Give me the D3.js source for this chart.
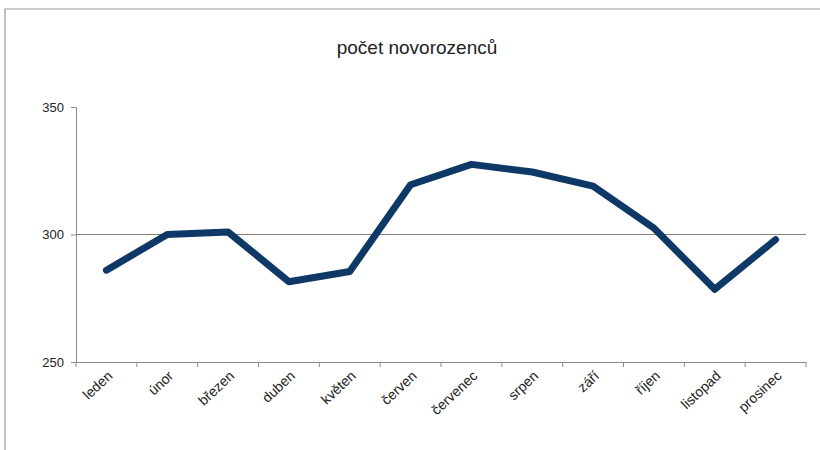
<!DOCTYPE html>
<html lang="cs">
<head>
<meta charset="UTF-8">
<title>počet novorozenců</title>
<script src="https://cdn.jsdelivr.net/npm/d3@7"></script>
<style>
    body { margin: 0; background: #fff; }
    svg { display: block; font-family: "Liberation Sans", Arial, sans-serif; }
    .title { font-size: 19px; fill: #222; }
    .axis text { font-size: 13px; fill: #222; }
    .xaxis text { font-size: 14px; }
    .axis path, .axis line { stroke: #8c8c8c; }
</style>
</head>
<body>
<svg width="820" height="450"></svg>
<script>
    var months = ["leden", "únor", "březen", "duben", "květen", "červen",
                  "červenec", "srpen", "září", "říjen", "listopad", "prosinec"];
    var births = [286, 300, 301, 281.5, 285.5, 319.5, 327.5, 324.5, 319, 302.5, 278.5, 298];
    var yTicks = [250, 300, 350];

    var svg = d3.select("svg"),
        margin = {top: 107, right: 14, bottom: 88, left: 76},
        width = 820 - margin.left - margin.right,
        height = 450 - margin.top - margin.bottom;

    // chart frame (top and left edge visible in the scan)
    svg.append("path")
        .attr("d", "M5,450 V9 H820")
        .attr("fill", "none")
        .attr("stroke", "#999")
        .attr("stroke-width", 1.2);

    svg.append("text")
        .attr("class", "title")
        .attr("x", 417)
        .attr("y", 54)
        .attr("text-anchor", "middle")
        .text("počet novorozenců");

    var g = svg.append("g")
        .attr("transform", "translate(" + margin.left + "," + margin.top + ")");

    var x = d3.scaleBand().domain(months).range([0, width]);
    var y = d3.scaleLinear().domain([250, 350]).range([height, 0]);

    // horizontal gridline
    g.selectAll(".grid")
        .data(yTicks.filter(function(d) { return d === 300; }))
        .enter().append("line")
        .attr("class", "grid")
        .attr("x1", 0).attr("x2", width)
        .attr("y1", function(d) { return y(d); })
        .attr("y2", function(d) { return y(d); })
        .attr("stroke", "#8a7d72")
        .attr("stroke-width", 1.2);

    g.append("g")
        .attr("class", "axis")
        .call(d3.axisLeft(y).tickValues(yTicks).tickSize(5).tickPadding(7));

    var xAxis = g.append("g")
        .attr("class", "axis xaxis")
        .attr("transform", "translate(0," + height + ")")
        .call(d3.axisBottom(x).tickSize(0).tickPadding(0));

    // ticks sit between categories
    xAxis.selectAll(".tick line").remove();
    xAxis.selectAll(".bound")
        .data(d3.range(months.length + 1))
        .enter().append("line")
        .attr("class", "bound")
        .attr("x1", function(i) { return i * x.step(); })
        .attr("x2", function(i) { return i * x.step(); })
        .attr("y1", 0).attr("y2", 5)
        .attr("stroke", "#8c8c8c");

    xAxis.selectAll(".tick text")
        .attr("text-anchor", "end")
        .attr("dy", 0)
        .attr("transform", "translate(7,15) rotate(-43)");

    var line = d3.line()
        .x(function(d, i) { return x(months[i]) + x.bandwidth() / 2; })
        .y(function(d) { return y(d); });

    g.append("path")
        .datum(births)
        .attr("fill", "none")
        .attr("stroke", "#0e3866")
        .attr("stroke-width", 7)
        .attr("stroke-linejoin", "round")
        .attr("stroke-linecap", "round")
        .attr("d", line);
</script>
</body>
</html>
